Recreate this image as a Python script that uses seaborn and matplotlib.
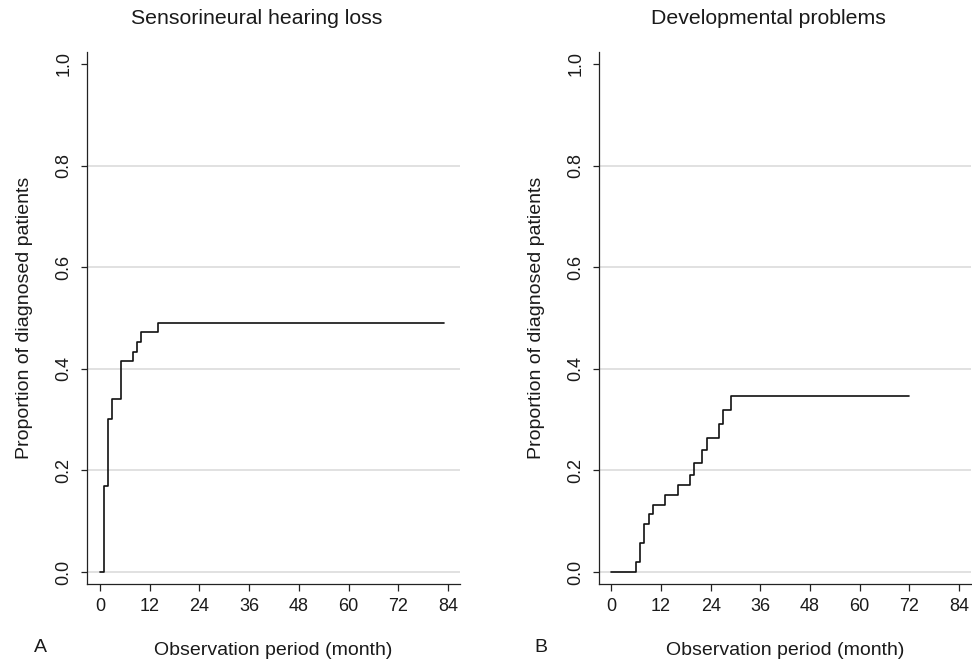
import matplotlib
matplotlib.use("Agg")
import matplotlib.pyplot as plt
import seaborn as sns
import pandas as pd

# Panel A: sensorineural hearing loss (cumulative proportion diagnosed)
snhl_month = [0, 1, 2, 3, 5, 8, 9, 10, 14, 83]
snhl_prop = [0.0, 0.170, 0.302, 0.340, 0.415, 0.434, 0.453, 0.472, 0.491, 0.491]

# Panel B: developmental problems
dev_month = [0, 6, 7, 8, 9, 10, 13, 16, 19, 20, 22, 23, 26, 27, 29, 72]
dev_prop = [0.0, 0.019, 0.057, 0.095, 0.114, 0.132, 0.151, 0.171, 0.192,
            0.215, 0.240, 0.264, 0.291, 0.319, 0.347, 0.347]

titles = ["Sensorineural hearing loss", "Developmental problems"]
panel_tags = ["A", "B"]
x_ticks = [0, 12, 24, 36, 48, 60, 72, 84]
y_ticks = [0.0, 0.2, 0.4, 0.6, 0.8, 1.0]
y_ticklabels = ["0.0", "0.2", "0.4", "0.6", "0.8", "1.0"]

sns.set_style("ticks")
plt.rcParams["font.family"] = ["Liberation Sans", "DejaVu Sans"]
text_col = "#1a1a1a"

fig = plt.figure(figsize=(9.72, 6.62), dpi=100)
ax_a = fig.add_axes([0.0898, 0.1174, 0.3835, 0.8036])
ax_b = fig.add_axes([0.6160, 0.1174, 0.3830, 0.8036])

panels = [
    (ax_a, pd.DataFrame({"month": snhl_month, "prop": snhl_prop})),
    (ax_b, pd.DataFrame({"month": dev_month, "prop": dev_prop})),
]

for i, (ax, df) in enumerate(panels):
    sns.lineplot(data=df, x="month", y="prop", ax=ax, color="#111111",
                 linewidth=1.2, drawstyle="steps-post", estimator=None)

    ax.set_xlim(-3.05, 86.9)
    ax.set_ylim(-0.024, 1.023)
    ax.set_xticks(x_ticks)
    ax.set_yticks(y_ticks)
    ax.set_yticklabels(y_ticklabels, rotation=90, va="center")

    ax.yaxis.grid(True, color="#d9d9d9", linewidth=1.1)
    ax.xaxis.grid(False)
    ax.yaxis.get_major_ticks()[-1].gridline.set_visible(False)
    ax.set_axisbelow(True)

    sns.despine(ax=ax)
    for side in ["left", "bottom"]:
        ax.spines[side].set_color("#222222")
        ax.spines[side].set_linewidth(0.9)

    ax.tick_params(axis="x", length=5, width=0.9, pad=5, labelsize=13,
                   colors="#222222", labelcolor=text_col)
    ax.tick_params(axis="y", length=4.5, width=0.9, pad=6, labelsize=13,
                   colors="#222222", labelcolor=text_col)

    ax.set_xlabel("Observation period (month)", fontsize=14, color=text_col,
                  labelpad=19)
    ax.set_ylabel("Proportion of diagnosed patients", fontsize=14,
                  color=text_col, labelpad=16)

# titles sit slightly left of axes centre, as in the original layout
fig.text(257 / 972, 1 - 18 / 662, titles[0], ha="center", va="center",
         fontsize=15.3, color=text_col)
fig.text(768 / 972, 1 - 18 / 662, titles[1], ha="center", va="center",
         fontsize=15.3, color=text_col)
fig.text(40 / 972, 1 - 648 / 662, panel_tags[0], ha="center", va="center",
         fontsize=14, color=text_col)
fig.text(541 / 972, 1 - 648 / 662, panel_tags[1], ha="center", va="center",
         fontsize=14, color=text_col)

fig.savefig("out.png", dpi=100, facecolor="white")
